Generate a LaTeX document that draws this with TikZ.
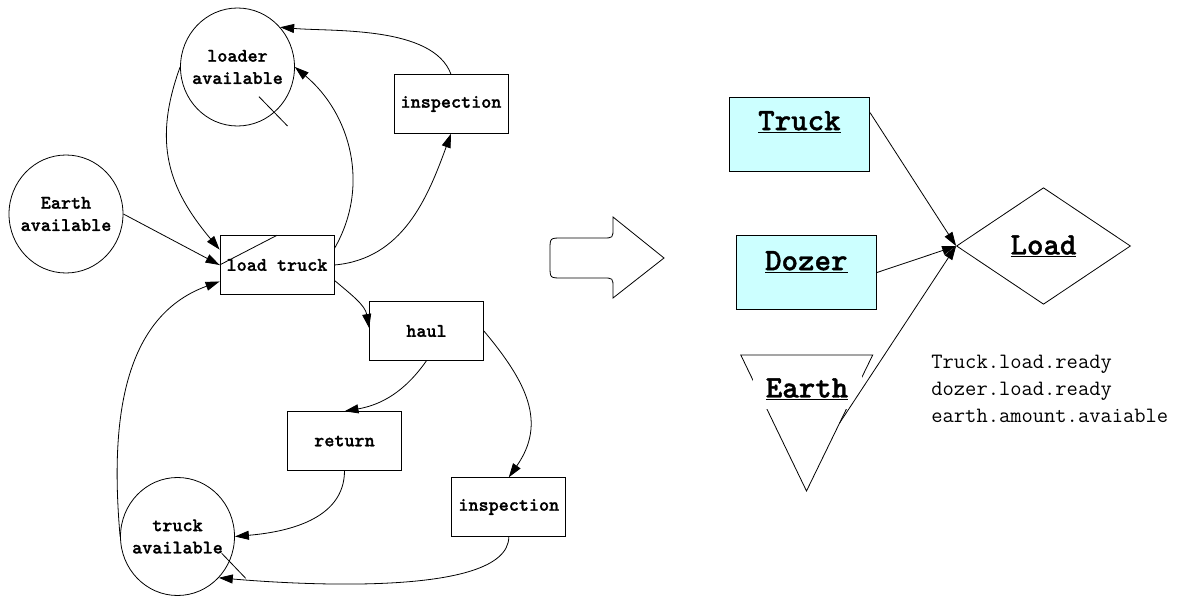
\documentclass[tikz,border=0pt]{standalone}
\usepackage{fontspec}
\setmonofont{Latin Modern Mono}
\newfontfamily\lmttbold{lmmonolt10-bold}[Extension=.otf,FakeBold=1.2]
\usetikzlibrary{arrows.meta,shapes.geometric,calc}

\definecolor{objcyan}{HTML}{CCFFFF}
\newcommand{\lblfont}{\lmttbold\fontsize{19.2}{22.3}\selectfont}
\newcommand{\objfont}{\lmttbold\fontsize{31.4}{33}\selectfont}
\newcommand{\attrfont}{\ttfamily\fontsize{21.9}{26.7}\selectfont}

\begin{document}
\begin{tikzpicture}[x=1pt,y=1pt,line width=0.8pt,
  >={Triangle[length=14pt,width=9pt]},
  place/.style={ellipse,draw,minimum width=114pt,minimum height=118pt,inner sep=0pt},
  act/.style={rectangle,draw,minimum width=114pt,minimum height=58.6pt,inner sep=0pt,font=\lblfont},
  obj/.style={rectangle,draw,fill=objcyan,minimum width=140.6pt,minimum height=73.3pt,inner sep=0pt}]
\useasboundingbox (0,0) rectangle (1179,-596);

% left: activity cycle
\node[place,label={[align=center,font=\lblfont]center:loader\\available}] (s_loader) at (237.5,-67) {};
\node[place,label={[align=center,font=\lblfont]center:Earth\\available}] (s_earth) at (66,-214) {};
\node[place,label={[align=center,font=\lblfont]center:truck\\available}] (s_truck) at (177.5,-536.5) {};
\node[act] (a_load)  at (277,-265)   {load truck};
\node[act] (a_insp)  at (451,-104)   {inspection};
\node[act] (a_haul)  at (426.5,-331) {haul};
\node[act] (a_ret)   at (344.5,-441) {return};
\node[act] (a_insp2) at (508.8,-507) {inspection};

\path[->]
(s_earth.east) edge (a_load.west)
(s_loader.west) edge [out=-110,in=130,looseness=1.1] (a_load.165)
(a_load.16) edge [out=60,in=-40] (s_loader.east)
(a_load.east) edge [out=5,in=-110] (a_insp.south)
(a_insp.north) edge [out=110,in=-5,looseness=0.75] (s_loader.43)
(s_truck.west) edge [out=95,in=200] (a_load.196)
(a_load.-15) edge [out=-40,in=100] (a_haul.177)
(a_haul.south) edge [out=-125,in=10] (a_ret.north)
(a_haul.east) edge [out=-50,in=55,looseness=1.15] (a_insp2.north)
(a_ret.south) edge [out=-90,in=5] (s_truck.east)
(a_insp2.south) edge [out=-90,in=-5,looseness=0.55] (s_truck.-45)
; %end path

% stray strokes
\draw ($(s_loader)+(21.5,-29.7)$) -- ++(28.5,-29.3);
\draw (a_load.west) -- (a_load.north);
\draw ($(s_truck)+(44.2,-16.8)$) -- ++(24,-25);

% block arrow
\draw (613,-217) -- (664,-258) -- (613,-298) -- (613,-288)
  .. controls (613,-278) .. (603,-278) -- (562,-278)
  .. controls (550,-278) .. (550,-266) -- (550,-250)
  .. controls (550,-238) .. (562,-238) -- (603,-238)
  .. controls (613,-238) .. (613,-228) -- cycle;

% right: objects and activity
\node[obj,label={[yshift=12.6pt,font=\objfont]center:\underline{Truck}}] (o_truck) at (799.4,-134.3) {};
\node[obj,label={[yshift=10.8pt,font=\objfont]center:\underline{Dozer}}] (o_dozer) at (806.3,-272.5) {};
\node[diamond,draw,minimum width=174pt,minimum height=116.6pt,inner sep=0pt,font=\objfont] (d_load) at (1043.5,-246) {\underline{Load}};

\coordinate (e_tl) at (740.8,-355);
\coordinate (e_tr) at (872.7,-355);
\coordinate (e_b)  at (806.5,-491);
\draw (e_tl) -- (e_tr) -- (e_b) -- cycle;
\node[fill=white,minimum width=109pt,minimum height=40pt,inner sep=0pt,font=\objfont] (o_earth) at (807,-389) {\underline{Earth}};
\coordinate (e_r) at ($(e_tr)!0.5!(e_b)$);

\path[->]
(o_truck.17) edge (d_load.west)
(o_dozer.east) edge (d_load.west)
(e_r) edge (d_load.west)
;

\node[anchor=north west,align=left,inner sep=0pt,font=\attrfont] (attrs) at (931,-355)
  {Truck.load.ready\\dozer.load.ready\\earth.amount.avaiable};
\end{tikzpicture}
\end{document}
